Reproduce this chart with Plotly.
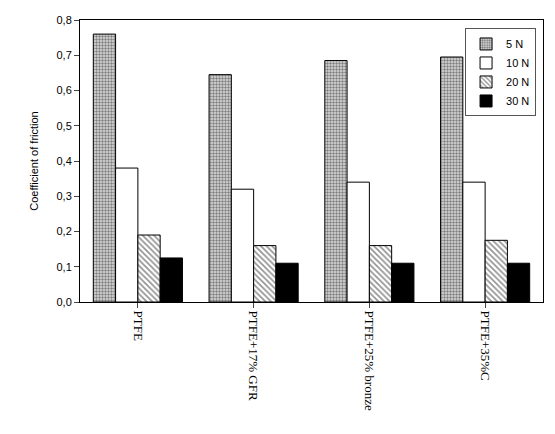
import plotly.graph_objects as go

categories = ["PTFE", "PTFE+17% GFR", "PTFE+25% bronze", "PTFE+35%C"]
series_names = ["5 N", "10 N", "20 N", "30 N"]
v5 = [0.76, 0.645, 0.685, 0.695]
v10 = [0.38, 0.32, 0.34, 0.34]
v20 = [0.19, 0.16, 0.16, 0.175]
v30 = [0.125, 0.11, 0.11, 0.11]
yticks = [0, 0.1, 0.2, 0.3, 0.4, 0.5, 0.6, 0.7, 0.8]

styles = [
    dict(color="#888888", pattern=dict(shape=".", fgcolor="#222222", bgcolor="#dddddd", size=3, solidity=0.5)),
    dict(color="white"),
    dict(color="white", pattern=dict(shape="\\", fgcolor="#222222", bgcolor="white", size=4, solidity=0.4)),
    dict(color="black"),
]
fig = go.Figure()
for name, vals, st in zip(series_names, [v5, v10, v20, v30], styles):
    fig.add_bar(x=categories, y=vals, name=name,
                marker=dict(**st, line=dict(color="black", width=1)))

fig.update_layout(
    width=555, height=434, margin=dict(l=72, r=20, t=12, b=140),
    paper_bgcolor="white", plot_bgcolor="white", separators=", ",
    barmode="group", bargap=0.23, bargroupgap=0,
    font=dict(family="Liberation Sans", size=11, color="black"),
    legend=dict(x=0.985, y=0.97, xanchor="right", yanchor="top",
                bordercolor="#555555", borderwidth=1, font=dict(size=11),
                tracegroupgap=8, itemwidth=30),
    xaxis=dict(showline=True, linecolor="black", mirror=True, ticks="outside",
               tickangle=90, automargin=False,
               tickfont=dict(family="Liberation Serif", size=13)),
    yaxis=dict(title=dict(text="Coefficient of friction", font=dict(size=11)),
               range=[0, 0.8], tickvals=yticks, tickformat=".1f", automargin=False,
               showline=True, linecolor="black", mirror=True, ticks="outside",
               showgrid=False, zeroline=False),
)
fig.write_html("out.html")
